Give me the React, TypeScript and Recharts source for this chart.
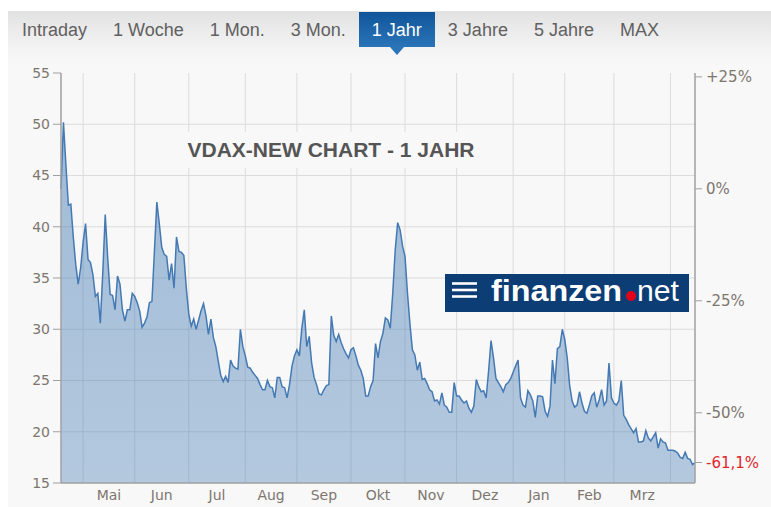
import React from 'react';
import { AreaChart, Area, Line, XAxis, YAxis, CartesianGrid } from 'recharts';

// VDAX-NEW close per trading day (ordinal axis, one value per day)
const vdax = [
  43.7, 50.2, 46.0, 42.1, 42.2, 39.0, 36.3, 34.4, 36.0, 38.5, 40.3, 36.8, 36.5,
  35.3, 33.2, 33.5, 30.6, 35.5, 41.2, 37.0, 33.4, 33.3, 31.9, 35.2, 34.4, 31.9,
  30.8, 31.9, 31.9, 33.5, 33.2, 32.6, 31.8, 30.2, 30.6, 31.2, 32.6, 32.7, 37.5,
  42.4, 40.3, 38.0, 37.3, 37.1, 34.8, 36.4, 34.0, 39.0, 37.6, 37.5, 37.2, 34.0,
  31.5, 30.3, 31.0, 30.0, 30.9, 31.8, 32.5, 31.3, 29.5, 31.0, 29.2, 28.3, 26.9,
  25.5, 24.9, 25.4, 24.8, 27.0, 26.4, 26.2, 26.1, 30.0, 28.3, 27.4, 26.3, 26.2,
  25.8, 25.5, 25.2, 24.6, 24.1, 24.1, 25.0, 24.4, 24.3, 23.3, 25.3, 25.3, 24.4,
  24.3, 23.3, 24.6, 26.4, 27.4, 28.0, 27.4, 30.1, 31.9, 28.3, 29.3, 26.7, 25.3,
  24.6, 23.7, 23.6, 24.1, 24.5, 24.6, 31.3, 29.4, 28.8, 29.5, 28.7, 28.1, 27.6,
  27.2, 28.0, 28.2, 27.4, 26.5, 26.0, 25.2, 23.5, 23.5, 24.4, 25.0, 28.6, 27.2,
  28.8, 29.6, 31.1, 30.9, 30.1, 33.5, 37.7, 40.4, 39.7, 38.1, 37.1, 33.5, 30.5,
  28.0, 27.5, 26.0, 26.8, 25.1, 25.2, 24.7, 24.1, 23.9, 23.0, 23.1, 22.7, 23.8,
  22.6, 22.4, 21.9, 21.9, 24.8, 23.5, 23.5, 23.1, 22.8, 23.0, 22.3, 21.9, 22.5,
  25.1, 24.4, 23.9, 24.0, 23.3, 25.9, 28.9, 27.2, 25.2, 24.8, 24.4, 23.9, 24.6,
  24.8, 25.2, 25.8, 26.4, 27.0, 23.3, 22.6, 22.4, 24.0, 23.6, 23.0, 21.4, 23.5,
  23.5, 23.4, 22.0, 21.5, 22.5, 27.0, 24.7, 28.1, 28.3, 30.0, 29.0, 27.2, 24.5,
  23.0, 22.4, 22.6, 23.9, 22.8, 22.0, 21.8, 22.6, 23.5, 23.8, 22.4, 23.1, 24.1,
  22.6, 23.0, 26.7, 23.3, 22.8, 22.6, 23.0, 25.0, 21.6, 21.2, 20.7, 20.3, 19.9,
  20.3, 19.0, 19.0, 19.1, 20.1, 19.4, 19.1, 19.5, 19.9, 18.4, 19.3, 19.0, 18.9,
  18.2, 18.2, 18.2, 18.1, 17.9, 17.5, 17.4, 18.0, 17.4, 17.3, 16.8, 17.0,
];

// first trading day of each month (index into vdax)
const monthStarts = [9, 30, 52, 75, 96, 118, 140, 161, 184, 205, 225, 248];
const monthNames = ['Mai', 'Jun', 'Jul', 'Aug', 'Sep', 'Okt', 'Nov', 'Dez', 'Jan', 'Feb', 'Mrz'];
const leftTicks = [15, 20, 25, 30, 35, 40, 45, 50, 55];
const gridValues = [20, 25, 30, 35, 40, 45, 50];
const pctTicks = [25, 0, -25, -50];
const tabs = ['Intraday', '1 Woche', '1 Mon.', '3 Mon.', '1 Jahr', '3 Jahre', '5 Jahre', 'MAX'];
const activeTab = '1 Jahr';

const base = vdax[0];
const toPct = (v: number) => (v / base - 1) * 100;
const lastPct = toPct(vdax[vdax.length - 1]);

const data = vdax.map((v, i) => ({ i, v, pct: toPct(v) }));
const labelTicks = monthNames.map((_, k) => (monthStarts[k] + monthStarts[k + 1]) / 2);

const labelColor = '#7d766f';

const MonthTick = ({ x, y, payload }: any) => {
  const k = labelTicks.indexOf(payload.value);
  return (
    <text x={x} y={y} dy={12} textAnchor="middle" fill={labelColor} fontSize={14} fontFamily="DejaVu Sans">
      {monthNames[k]}
    </text>
  );
};

const PctTick = ({ x, y, payload }: any) => {
  const val = payload.value;
  const isLast = Math.abs(val - lastPct) < 0.01;
  const label = isLast
    ? val.toFixed(1).replace('.', ',') + '%'
    : (val > 0 ? '+' : '') + Math.round(val) + '%';
  return (
    <text x={x} y={y} dy={5} textAnchor="start" fill={isLast ? '#e0262c' : labelColor} fontSize={15} fontFamily="DejaVu Sans">
      {label}
    </text>
  );
};

function TabBar() {
  return (
    <div style={{ position: 'absolute', left: 0, top: 1, width: 763, height: 35, display: 'flex', paddingLeft: 1 }}>
      {tabs.map((t) => {
        const active = t === activeTab;
        return (
          <div
            key={t}
            style={{
              position: 'relative',
              padding: '0 13px',
              height: 35,
              lineHeight: '36px',
              fontFamily: '"Liberation Sans", Arial, sans-serif',
              fontSize: 18,
              color: active ? '#fff' : '#606060',
              background: active ? 'linear-gradient(#10559a, #2b74b8)' : 'transparent',
              whiteSpace: 'nowrap',
            }}
          >
            {t}
            {active && (
              <div
                style={{
                  position: 'absolute',
                  left: '50%',
                  top: 35,
                  marginLeft: -7,
                  width: 0,
                  height: 0,
                  borderLeft: '7px solid transparent',
                  borderRight: '7px solid transparent',
                  borderTop: '8px solid #2b74b8',
                }}
              />
            )}
          </div>
        );
      })}
    </div>
  );
}

function Logo() {
  return (
    <svg width={244} height={38} style={{ position: 'absolute', left: 437, top: 263 }}>
      <rect x={0} y={0} width={244} height={38} fill="#0c3d74" />
      <line x1={7} x2={32} y1={9.5} y2={9.5} stroke="#fff" strokeWidth={2.6} />
      <line x1={7} x2={32} y1={16} y2={16} stroke="#fff" strokeWidth={2.6} />
      <line x1={7} x2={32} y1={22.5} y2={22.5} stroke="#fff" strokeWidth={2.6} />
      <text x={46} y={27} fill="#fff" fontSize={30} fontWeight="bold" fontFamily='"Liberation Sans", Arial, sans-serif' textLength={131} lengthAdjust="spacingAndGlyphs">
        finanzen
      </text>
      <circle cx={186} cy={22} r={5} fill="#e3001b" />
      <text x={192} y={27} fill="#fff" fontSize={30} fontFamily='"Liberation Sans", Arial, sans-serif' textLength={42} lengthAdjust="spacingAndGlyphs">
        net
      </text>
    </svg>
  );
}

export default function App() {
  return (
    <>
      <style>{'body{margin:0;overflow:hidden}'}</style>
      <div
        style={{
          position: 'absolute',
          left: 8,
          top: 11,
          width: 763,
          height: 496,
          overflow: 'hidden',
          background: 'linear-gradient(#e2e2e2 0px, #f3f3f3 36px, #f8f8f8 55px, #f8f8f8 100%)',
        }}
      >
        <TabBar />
        <div style={{ position: 'absolute', left: 0, top: 0 }}>
          <AreaChart width={763} height={496} data={data} margin={{ top: 62, right: 14, bottom: 10, left: 8 }}>
            <defs>
              <linearGradient id="vdaxFill" x1="0" y1="0" x2="0" y2="1">
                <stop offset="0%" stopColor="#3f78b2" stopOpacity={0.48} />
                <stop offset="100%" stopColor="#3f78b2" stopOpacity={0.37} />
              </linearGradient>
            </defs>
            <CartesianGrid
              yAxisId="left"
              stroke="#dcdcdc"
              verticalValues={monthStarts}
              horizontalValues={gridValues}
            />
            <XAxis
              dataKey="i"
              type="number"
              domain={[0, vdax.length - 1]}
              ticks={labelTicks}
              interval={0}
              height={14}
              tickLine={false}
              tickSize={3}
              tickMargin={2}
              axisLine={{ stroke: '#a0a0a0', strokeWidth: 1.5 }}
              tick={<MonthTick />}
            />
            <YAxis
              yAxisId="left"
              orientation="left"
              domain={[15, 55]}
              ticks={leftTicks}
              interval={0}
              width={45}
              tickSize={8}
              tickMargin={3}
              axisLine={{ stroke: '#a0a0a0', strokeWidth: 1.5 }}
              tickLine={{ stroke: '#a0a0a0' }}
              tick={{ fill: labelColor, fontSize: 14, fontFamily: 'DejaVu Sans' }}
            />
            <YAxis
              yAxisId="pct"
              orientation="right"
              domain={[toPct(15), toPct(55)]}
              allowDataOverflow
              ticks={[...pctTicks, lastPct]}
              interval={0}
              width={62}
              tickSize={7}
              tickMargin={4}
              axisLine={{ stroke: '#a0a0a0', strokeWidth: 1.5 }}
              tickLine={{ stroke: '#a0a0a0' }}
              tick={<PctTick />}
            />
            <Area
              yAxisId="left"
              type="linear"
              dataKey="v"
              stroke="#4479b3"
              strokeWidth={1.5}
              fill="url(#vdaxFill)"
              fillOpacity={1}
              dot={false}
              activeDot={false}
              isAnimationActive={false}
            />
            <Line
              yAxisId="pct"
              dataKey="pct"
              stroke="none"
              dot={false}
              activeDot={false}
              isAnimationActive={false}
            />
          </AreaChart>
        </div>
        <div
          style={{
            position: 'absolute',
            left: 172,
            top: 121,
            width: 302,
            height: 36,
            background: '#f8f8f8',
            textAlign: 'center',
            lineHeight: '36px',
            fontFamily: '"Liberation Sans", Arial, sans-serif',
            fontWeight: 'bold',
            fontSize: 21,
            color: '#555',
          }}
        >
          VDAX-NEW CHART - 1 JAHR
        </div>
        <Logo />
      </div>
    </>
  );
}
